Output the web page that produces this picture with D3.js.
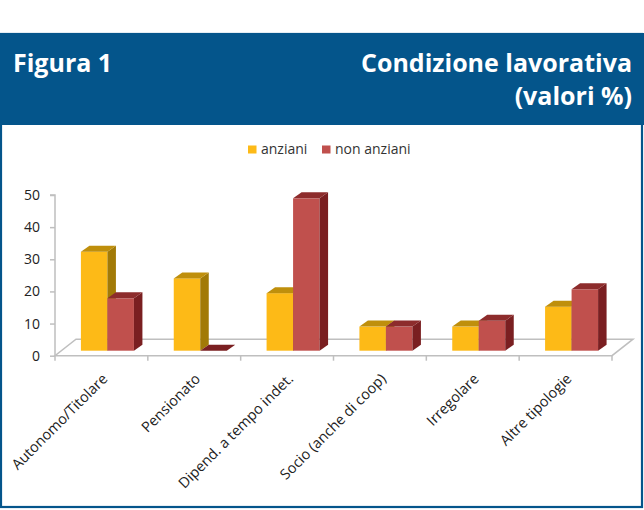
<!DOCTYPE html>
<html><head><meta charset="utf-8">
<script src="https://cdn.jsdelivr.net/npm/d3@7"></script>
<style>body{margin:0;background:#fff}svg{display:block}</style>
</head><body>
<svg id="c" width="644" height="510"></svg>
<script>
const categories = ["Autonomo/Titolare","Pensionato","Dipend. a tempo indet.","Socio (anche di coop)","Irregolare","Altre tipologie"];
const seriesNames = ["anziani","non anziani"];
const anziani = [30.8, 22.5, 17.9, 7.5, 7.5, 13.7];
const nonAnziani = [16.3, 0, 47.4, 7.5, 9.3, 19.1];
const yTicks = [0,10,20,30,40,50];

const svg = d3.select("#c");
const blue = "#04558b";
// frame
svg.append("rect").attr("x",1).attr("y",34).attr("width",641).attr("height",473)
  .attr("fill","#fff").attr("stroke",blue).attr("stroke-width",2.2);
svg.append("rect").attr("x",0).attr("y",33).attr("width",644).attr("height",92).attr("fill",blue);
const tf = "'Open Sans', sans-serif";
svg.append("text").attr("x",13).attr("y",72).attr("fill","#fff").attr("font-family",tf)
  .attr("font-weight","bold").attr("font-size",25).text("Figura 1");
svg.append("text").attr("x",632).attr("y",72).attr("text-anchor","end").attr("fill","#fff").attr("font-family",tf)
  .attr("font-weight","bold").attr("font-size",25).text("Condizione lavorativa");
svg.append("text").attr("x",632).attr("y",105).attr("text-anchor","end").attr("fill","#fff").attr("font-family",tf)
  .attr("font-weight","bold").attr("font-size",25).text("(valori %)");

// scales
const x0 = 55, x1 = 612;
const y = d3.scaleLinear().domain([0,50]).range([355.7,195]);
const xb = d3.scaleBand().domain(categories).range([x0,x1]).paddingInner(0).paddingOuter(0);
const xs = d3.scaleBand().domain(seriesNames).range([0,53]);
const floorDX = 21, floorDY = 16.5;
const barShiftX = 6, barShiftY = 5;
const bdx = 8.5, bdy = 6;
const grey = "#bfbfbf";

const g = svg.append("g");
// floor outline
const fy = y(0);
g.append("path").attr("d",`M${x0},${fy}L${x1},${fy}L${x1+floorDX},${fy-floorDY}L${x0+floorDX},${fy-floorDY}Z`)
  .attr("fill","none").attr("stroke",grey).attr("stroke-width",1.5);
// y axis
const yAxis = d3.axisLeft(y).tickValues(yTicks).tickSize(5).tickPadding(10);
const ya = g.append("g").attr("transform",`translate(${x0},0)`).call(yAxis);
ya.select(".domain").attr("stroke",grey).attr("stroke-width",1.5).attr("d",`M-5,${y(50)}H0V${y(0)}`);
ya.selectAll(".tick line").attr("stroke",grey).attr("stroke-width",1.5);
ya.selectAll("text").attr("font-family",tf).attr("font-size",14).attr("fill","#222");
// x ticks at band boundaries
const bounds = categories.map(c=>xb(c)).concat([x1]);
g.selectAll(".xt").data(bounds).enter().append("line")
  .attr("x1",d=>d).attr("x2",d=>d).attr("y1",fy).attr("y2",fy+5)
  .attr("stroke",grey).attr("stroke-width",1.5);

const colors = {
  "anziani": {front:"#fdba17", top:"#bf8f0c", side:"#a27a07"},
  "non anziani": {front:"#c0504d", top:"#8d2c2c", side:"#7a1f21"}
};
const data = [];
categories.forEach((c,i)=>{
  data.push({c, s:"anziani", v:anziani[i]});
  data.push({c, s:"non anziani", v:nonAnziani[i]});
});
const bw = xs.bandwidth();
const pad = (xb.bandwidth()-53)/2;
data.forEach(d=>{
  const xl = xb(d.c) + pad + xs(d.s) + barShiftX;
  const xr = xl + bw;
  const yb = y(0) - barShiftY;
  const yt = y(d.v) - barShiftY;
  const col = colors[d.s];
  if (d.v > 0) {
    g.append("rect").attr("x",xl).attr("y",yt).attr("width",bw).attr("height",yb-yt).attr("fill",col.front);
    g.append("path").attr("d",`M${xr},${yt}L${xr+bdx},${yt-bdy}L${xr+bdx},${yb-bdy}L${xr},${yb}Z`).attr("fill",col.side);
  }
  g.append("path").attr("d",`M${xl},${yt}L${xl+bdx},${yt-bdy}L${xr+bdx},${yt-bdy}L${xr},${yt}Z`).attr("fill",d.v>0?col.top:col.side);
});

// x labels
g.selectAll(".xl").data(categories).enter().append("text")
  .attr("transform",d=>`translate(${xb(d)+xb.bandwidth()/2+7},${fy+24}) rotate(-45)`)
  .attr("text-anchor","end").attr("font-family",tf).attr("font-size",14.5).attr("fill","#222")
  .text(d=>d);

// legend
const lg = svg.append("g");
const legItems = [{s:"anziani",x:248},{s:"non anziani",x:322}];
legItems.forEach(l=>{
  lg.append("rect").attr("x",l.x).attr("y",145.5).attr("width",8.5).attr("height",8).attr("fill",colors[l.s].front);
  lg.append("text").attr("x",l.x+13).attr("y",154).attr("font-family",tf).attr("font-size",14).attr("fill","#333").text(l.s);
});
</script>
</body></html>
